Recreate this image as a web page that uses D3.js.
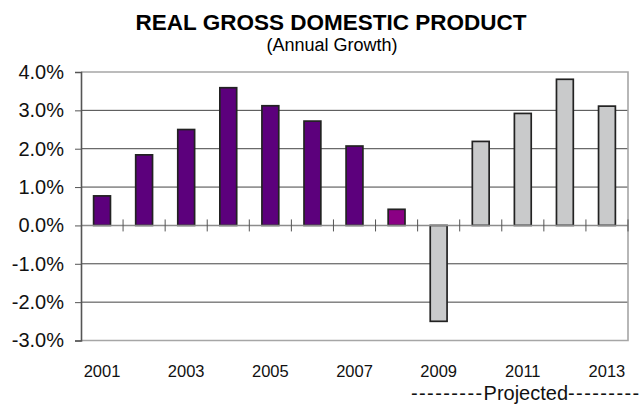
<!DOCTYPE html>
<html>
<head>
<meta charset="utf-8">
<script src="https://cdn.jsdelivr.net/npm/d3@7"></script>
<style>
  html, body { margin: 0; padding: 0; background: #fff; }
  svg { display: block; font-family: "Liberation Sans", Arial, sans-serif; }
</style>
</head>
<body>
<svg id="chart" width="641" height="405"></svg>
<script>
// Real GDP annual growth, percent
const years = [2001, 2002, 2003, 2004, 2005, 2006, 2007, 2008, 2009, 2010, 2011, 2012, 2013];
const growth = [0.77, 1.84, 2.50, 3.59, 3.12, 2.72, 2.07, 0.42, -2.50, 2.19, 2.92, 3.81, 3.11];
const status = ["actual", "actual", "actual", "actual", "actual", "actual", "actual",
                "preliminary", "projected", "projected", "projected", "projected", "projected"];
const yTicks = [-3, -2, -1, 0, 1, 2, 3, 4];
const labelYears = [2001, 2003, 2005, 2007, 2009, 2011, 2013];

const fillFor = { actual: "#5c007c", preliminary: "#8a0084", projected: "#c9cacb" };

const svg = d3.select("#chart");
const plot = { left: 81, right: 628, top: 72, bottom: 340.5 };

const x = d3.scaleBand()
  .domain(years)
  .range([plot.left, plot.right])
  .paddingInner(0.6)
  .paddingOuter(0.3);

const y = d3.scaleLinear()
  .domain([-3, 4])
  .range([plot.bottom, plot.top]);

const step = x.step();

// Horizontal gridlines
svg.append("g")
  .selectAll("line")
  .data(yTicks.filter(t => t !== 0 && t !== 4 && t !== -3))
  .join("line")
  .attr("x1", plot.left).attr("x2", plot.right)
  .attr("y1", d => y(d)).attr("y2", d => y(d))
  .attr("stroke", "#444").attr("stroke-width", 1);

// Plot frame (top, right, bottom)
svg.append("path")
  .attr("d", `M${plot.left},${y(4)}H${plot.right}V${y(-3)}H${plot.left}`)
  .attr("fill", "none")
  .attr("stroke", "#a6a6a6")
  .attr("stroke-width", 1.6);

// Bars
svg.append("g")
  .selectAll("rect")
  .data(years.map((yr, i) => ({ yr, v: growth[i], s: status[i] })))
  .join("rect")
  .attr("x", d => x(d.yr))
  .attr("width", x.bandwidth())
  .attr("y", d => y(Math.max(0, d.v)))
  .attr("height", d => Math.abs(y(d.v) - y(0)))
  .attr("fill", d => fillFor[d.s])
  .attr("stroke", "#222")
  .attr("stroke-width", 1.7);

// Zero line with category separators
svg.append("line")
  .attr("x1", plot.left).attr("x2", plot.right)
  .attr("y1", y(0)).attr("y2", y(0))
  .attr("stroke", "#8c8c8c").attr("stroke-width", 1.6);

svg.append("g")
  .selectAll("line")
  .data(years)
  .join("line")
  .attr("x1", d => x(d) - x.paddingOuter() * step + step)
  .attr("x2", d => x(d) - x.paddingOuter() * step + step)
  .attr("y1", y(0) - 6).attr("y2", y(0) + 6)
  .attr("stroke", "#555").attr("stroke-width", 1);

// Y axis
const yAxis = svg.append("g")
  .attr("transform", `translate(${plot.left},0)`)
  .call(d3.axisLeft(y)
    .tickValues(yTicks)
    .tickSize(6)
    .tickPadding(11)
    .tickFormat(d => d.toFixed(1) + "%"));
yAxis.select(".domain").attr("stroke", "#555").attr("stroke-width", 1.6);
yAxis.selectAll(".tick line").attr("stroke", "#555");
yAxis.selectAll(".tick text")
  .attr("fill", "#111")
  .style("font-size", "20px")
  .style("font-family", "'Liberation Sans', Arial, sans-serif");

// X labels, every other year
svg.append("g")
  .selectAll("text")
  .data(labelYears)
  .join("text")
  .attr("x", d => x(d) + x.bandwidth() / 2)
  .attr("y", 377)
  .attr("text-anchor", "middle")
  .attr("fill", "#111")
  .style("font-size", "16.5px")
  .text(d => d);

// Projection note
const note = svg.append("text")
  .attr("x", 411)
  .attr("y", 400)
  .attr("fill", "#111")
  .style("font-size", "20px");
note.append("tspan").style("letter-spacing", "1.4px").text("---------");
note.append("tspan").text("Projected");
note.append("tspan").style("letter-spacing", "1.4px").text("---------");

// Titles
svg.append("text")
  .attr("x", 331).attr("y", 29.5)
  .attr("text-anchor", "middle")
  .attr("fill", "#000")
  .style("font-size", "22.5px")
  .style("font-weight", "bold")
  .text("REAL GROSS DOMESTIC PRODUCT");

svg.append("text")
  .attr("x", 332).attr("y", 50.5)
  .attr("text-anchor", "middle")
  .attr("fill", "#000")
  .style("font-size", "18px")
  .text("(Annual Growth)");
</script>
</body>
</html>
